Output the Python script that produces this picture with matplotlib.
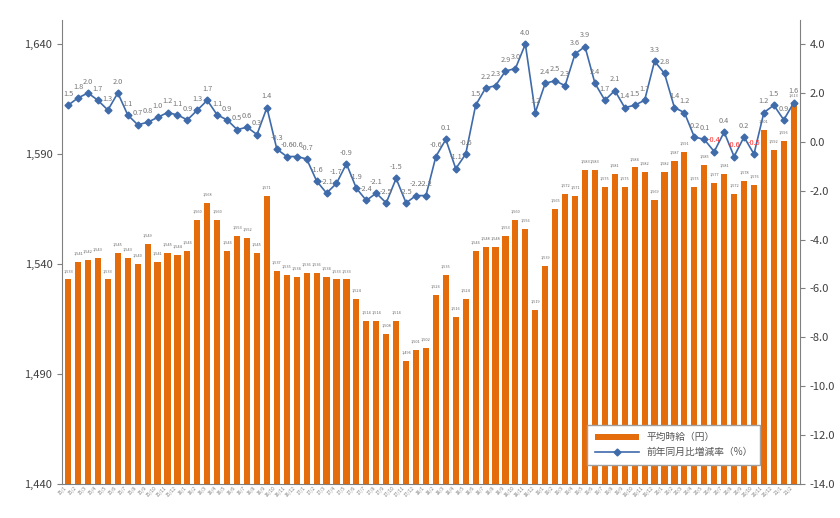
import matplotlib
matplotlib.use("Agg")
import matplotlib.pyplot as plt
import numpy as np

plt.rcParams['font.family'] = ['Noto Sans CJK JP', 'DejaVu Sans']

wages = [1533,1541,1542,1543,1533,1545,1543,1540,1549,1541,1545,1544,1546,1560,1568,1560,1546,1553,1552,1545,
         1571,1537,1535,1534,1536,1536,1534,1533,1533,1524,1514,1514,1508,1514,1496,1501,1502,1526,1535,1516,
         1524,1546,1548,1548,1553,1560,1556,1519,1539,1565,1572,1571,1583,1583,1575,1581,1575,1584,1582,1569,
         1582,1587,1591,1575,1585,1577,1581,1572,1578,1576,1601,1592,1596,1613]
yoy = [1.5,1.8,2.0,1.7,1.3,2.0,1.1,0.7,0.8,1.0,1.2,1.1,0.9,1.3,1.7,1.1,0.9,0.5,0.6,0.3,
       1.4,-0.3,-0.6,-0.6,-0.7,-1.6,-2.1,-1.7,-0.9,-1.9,-2.4,-2.1,-2.5,-1.5,-2.5,-2.2,-2.2,-0.6,0.1,-1.1,
       -0.5,1.5,2.2,2.3,2.9,3.0,4.0,1.2,2.4,2.5,2.3,3.6,3.9,2.4,1.7,2.1,1.4,1.5,1.7,3.3,
       2.8,1.4,1.2,0.2,0.1,-0.4,0.4,-0.6,0.2,-0.5,1.2,1.5,0.9,1.6]
months = [f"{15 + i // 12}/{i % 12 + 1}" for i in range(len(wages))]
left_ticks = [1440, 1490, 1540, 1590, 1640]
right_ticks = [4.0, 2.0, 0.0, -2.0, -4.0, -6.0, -8.0, -10.0, -12.0, -14.0]

fig = plt.figure(figsize=(8.4, 5.18), dpi=100)
ax = fig.add_axes([0.074, 0.066, 0.878, 0.895])
x = np.arange(len(wages))
ax.bar(x, wages, width=0.62, color='#E46C0A', label='平均時給（円）', zorder=2)
ax.set_ylim(1440, 1651)
ax.set_xlim(-0.6, len(wages) - 0.4)
ax.set_yticks(left_ticks)
ax.set_yticklabels([f"{v:,}" for v in left_ticks], fontsize=8, color='#404040')
ax.set_xticks(x)
ax.set_xticklabels(months, rotation=45, fontsize=3.5, color='#808080', ha='right')
for i, v in enumerate(wages):
    ax.text(i, v + 3, f"{v:,}", fontsize=2.8, color='#666666', ha='center', va='bottom')
ax.spines['top'].set_visible(False)
ax.spines['left'].set_color('#808080')
ax.spines['bottom'].set_color('#808080')
ax.spines['right'].set_visible(False)
ax.tick_params(axis='x', length=0, pad=1)
ax.tick_params(axis='y', colors='#808080', labelcolor='#404040')

ax2 = ax.twinx()
ax2.plot(x, yoy, color='#3F6BAA', lw=1.2, marker='D', ms=3.5, label='前年同月比増減率（%）', zorder=3)
ax2.set_ylim(-14, 4.98)
ax2.set_yticks(right_ticks)
ax2.set_yticklabels([f"{v:.1f}" for v in right_ticks], fontsize=8, color='#404040')
ax2.spines['top'].set_visible(False)
ax2.spines['left'].set_visible(False)
ax2.spines['bottom'].set_visible(False)
ax2.spines['right'].set_color('#808080')
ax2.tick_params(axis='y', colors='#808080', labelcolor='#404040')
for i, v in enumerate(yoy):
    col = '#FF3030' if (i >= 65 and v < 0) else '#777777'
    ax2.text(i, v + 0.3, f"{v:.1f}", fontsize=5.3, color=col, ha='center', va='bottom')

h1, l1 = ax.get_legend_handles_labels()
h2, l2 = ax2.get_legend_handles_labels()
ax2.legend(h1 + h2, l1 + l2, loc='lower left', bbox_to_anchor=(0.705, 0.03), fontsize=7,
           frameon=True, fancybox=False, edgecolor='#A0A0A0', framealpha=1, labelcolor='#555555',
           handlelength=4.5, borderpad=0.8)
fig.savefig('out.png', dpi=100)
